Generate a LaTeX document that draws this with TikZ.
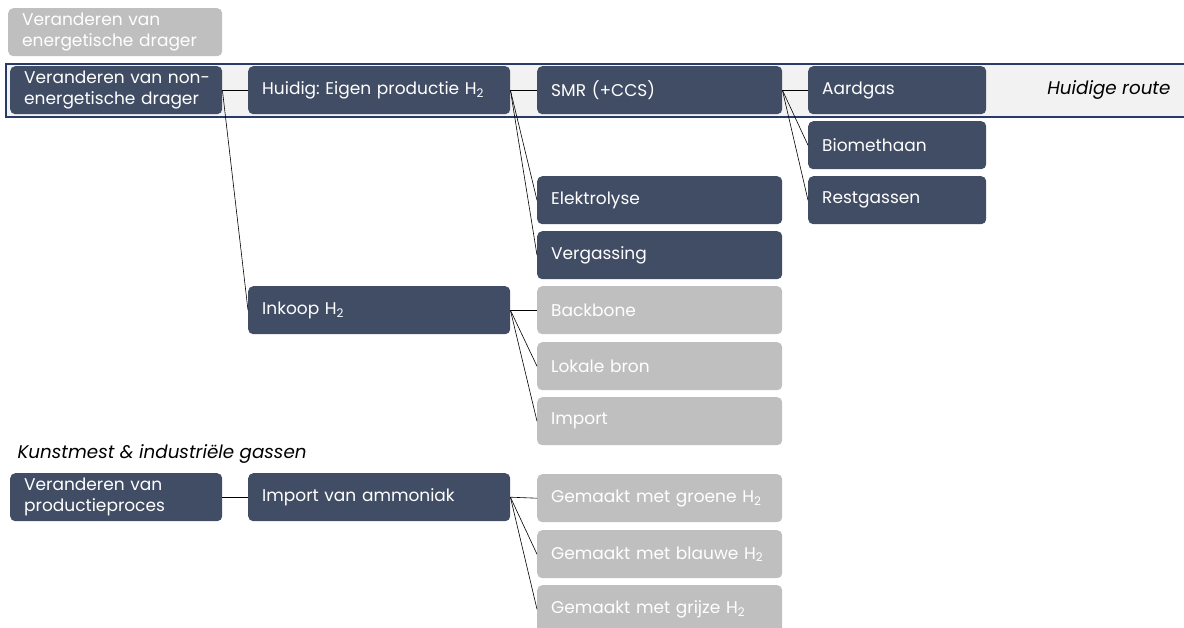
\documentclass[tikz,border=0pt]{standalone}
\usepackage{fontspec}
\setmainfont{Poppins}
\frenchspacing
\definecolor{navybox}{RGB}{64, 77, 100}
\definecolor{greybox}{RGB}{191, 191, 191}
\definecolor{bandbg}{RGB}{242, 242, 242}
\definecolor{bandline}{RGB}{40, 58, 105}
\usetikzlibrary{positioning}

\tikzset{
  box/.style={rectangle, rounded corners=5pt, anchor=north west, minimum height=48pt,
    inner xsep=14pt, inner ysep=2pt, align=left, text=white, text width=#1,
    font=\fontsize{17}{21}\selectfont},
  dark/.style={box=#1, fill=navybox},
  pale/.style={box=#1, fill=greybox},
  note/.style={font=\fontsize{18.3}{22}\selectfont\itshape},
  link/.style={draw=black, line width=0.6pt}
}

\begin{document}
\begin{tikzpicture}[x=1pt, y=-1pt]
  \useasboundingbox (0,0) rectangle (1184,628);

  % Current route band
  \draw[fill=bandbg, draw=bandline, line width=1.3pt] (6,64) rectangle (1190,117);
  \node[note, anchor=east] (route) at (1174,90) {Huidige route};

  % First column
  \node[pale=186pt] (energ) at (8,8) {Veranderen van\\energetische drager};
  \node[dark=184pt] (nonen) at (10,66) {\mbox{Veranderen van non-}\\energetische drager};

  % Second column
  \node[dark=234pt] (eigen) at (248,66) {Huidig: Eigen productie H\textsubscript{2}};
  \node[dark=234pt] (inkoop) at (248,286) {Inkoop H\textsubscript{2}};

  % Third column
  \node[dark=217pt] (smr) at (537,66) {SMR (+CCS)};
  \node[dark=217pt] (elek) at (537,176) {Elektrolyse};
  \node[dark=217pt] (verg) at (537,231) {Vergassing};
  \node[pale=217pt] (backb) at (537,286) {Backbone};
  \node[pale=217pt] (lokaal) at (537,342) {Lokale bron};
  \node[pale=217pt] (imp) at (537,397) {Import};

  % Fourth column
  \node[dark=150pt] (aardgas) at (808,66) {Aardgas};
  \node[dark=150pt] (biometh) at (808,121) {Biomethaan};
  \node[dark=150pt] (restg) at (808,176) {Restgassen};

  % Fertiliser and industrial gases
  \node[note, anchor=base west] (kunst) at (14,458) {Kunstmest \& industriële gassen};
  \node[dark=184pt] (prodpr) at (10,473) {Veranderen van\\productieproces};
  \node[dark=234pt] (ammon) at (248,473) {Import van ammoniak};
  \node[pale=217pt] (groen) at (537,474) {Gemaakt met groene H\textsubscript{2}};
  \node[pale=217pt] (blauw) at (537,530) {Gemaakt met blauwe H\textsubscript{2}};
  \node[pale=217pt] (grijs) at (537,585) {Gemaakt met grijze H\textsubscript{2}};

  % Connectors
  \foreach \a/\b in {nonen/eigen, nonen/inkoop, eigen/smr, eigen/elek, eigen/verg,
      smr/aardgas, smr/biometh, smr/restg, inkoop/backb, inkoop/lokaal, inkoop/imp,
      prodpr/ammon, ammon/groen, ammon/blauw, ammon/grijs}
    \draw[link] (\a.east) -- (\b.west);
\end{tikzpicture}
\end{document}
